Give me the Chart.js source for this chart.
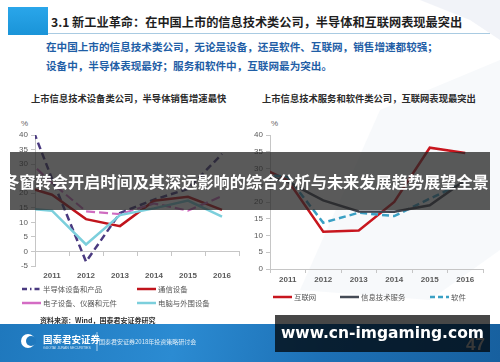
<!DOCTYPE html>
<html>
<head>
<meta charset="utf-8">
<script src="https://cdn.jsdelivr.net/npm/chart.js@4/dist/chart.umd.min.js"></script>
<style>
  html, body { margin: 0; padding: 0; }
  body {
    width: 500px; height: 362px; overflow: hidden; position: relative;
    background: #ffffff;
    font-family: "Noto Sans CJK SC", "Noto Sans", sans-serif;
  }
  .abs { position: absolute; white-space: nowrap; }
  canvas { position: absolute; }
  .bgshape { position: absolute; left: 0; top: 0; }
  .title { left: 51px; top: 12px; font-size: 12.2px; font-weight: bold; color: #1e1e1e; line-height: 20px; }
  .bluesq { left: 8px; top: 7px; width: 40px; height: 28px; background: linear-gradient(180deg, #2aa6ea, #1a94d8); }
  .rule { left: 48px; top: 33px; width: 442px; height: 1px; background: #a9cbe2; }
  .sub { left: 46px; font-size: 10.6px; font-weight: bold; color: #1f5ea6; line-height: 14px; }
  .ctitle { font-size: 9.3px; font-weight: bold; color: #2b2b2b; line-height: 12px; }
  .pct { font-family: "Liberation Sans", sans-serif; font-size: 8px; color: #666; }
  .leg { font-size: 7.4px; color: #555; line-height: 10px; display: flex; align-items: center; }
  .leg svg { margin-right: 2px; }
  .src { left: 40px; top: 315px; font-size: 7px; font-weight: bold; color: #333; line-height: 10px; }
  .foot { left: 0; top: 324px; width: 500px; height: 38px;
    background: linear-gradient(100deg, #1f78bd 0%, #2b8bd2 35%, #1d70b5 65%, #17609f 100%); }
  .banner { left: 10px; top: 152px; width: 480px; height: 58px; background: rgba(38,38,38,0.76); }
  .bannertxt { left: 0px; top: 170px; width: 492px; text-align: center; font-size: 16.2px; font-weight: bold; color: #ffffff; line-height: 22px; }
  .wm { left: 275px; top: 315px; width: 215px; height: 37px; background: rgba(0,0,0,0.72); }
  .wmtxt { left: 275px; top: 323px; width: 215px; text-align: center; font-family: "DejaVu Sans", sans-serif; font-weight: bold; font-size: 15.5px; color: #ffffff; line-height: 20px; }
</style>
</head>
<body>
<script>
// Category labels; 2010 sits just left of the visible range so the lines run in from the axis
const years = ['2010', '2011', '2012', '2013', '2014', '2015', '2016'];
const firstYear = '2011';

// 上市信息技术设备类公司 销售增速（%）
const semiconductor = [55, 25, -3.5, 13.2, 17.8, 21.5, 33.5];
const telecom = [23, 19.5, 11.1, 8.7, 17.4, 18.8, 14.3];
const electronics = [34.5, 23.5, 13.8, 12.8, 16.5, 14, 19];
const computers = [15, 14, 2.4, 12.5, 14.8, 17.5, 12];

// 上市信息技术服务和软件类公司 销售增速（%）
const internet = [31.5, 26.5, 11.1, 11.5, 20, 36.2, 34.6];
const itServices = [29, 26, 20.5, 17.2, 17.1, 19, 26.5];
const software = [28.5, 27.5, 13.8, 16.8, 15.8, 21, 26];

// Value axis ranges
const leftAxis = [-5, 40];
const rightAxis = [0, 40];
const axisStep = 5;
</script>

<svg class="bgshape" width="500" height="362">
  <polygon points="420,0 500,0 500,40 470,20" fill="rgba(214,222,236,0.35)"/>
  <polygon points="380,110 500,60 500,250 430,300 300,290" fill="rgba(226,232,242,0.28)"/>
</svg>

<div class="abs bluesq"></div>
<div class="abs title">3.1 新工业革命：在中国上市的信息技术类公司，半导体和互联网表现最突出</div>
<div class="abs rule"></div>
<div class="abs sub" style="top:40px">在中国上市的信息技术类公司，无论是设备，还是软件、互联网，销售增速都较强；</div>
<div class="abs sub" style="top:59px">设备中，半导体表现最好；服务和软件中，互联网最为突出。</div>

<div class="abs ctitle" style="left:31px; top:92px">上市信息技术设备类公司，半导体销售增速最快</div>
<div class="abs ctitle" style="left:262px; top:92px">上市信息技术服务和软件类公司，互联网表现最突出</div>
<div class="abs pct" style="left:21px; top:119px">%</div>
<div class="abs pct" style="left:271px; top:119px">%</div>

<canvas id="equip" width="250" height="160" style="left:0; top:125px"></canvas>
<canvas id="service" width="250" height="160" style="left:245px; top:125px"></canvas>

<div class="abs leg" style="left:22px; top:284px"><svg width="19" height="4"><line x1="0" y1="2" x2="19" y2="2" stroke="#4a3a80" stroke-width="2.5" stroke-dasharray="5,3,1.5,3"/></svg>半导体设备和产品</div>
<div class="abs leg" style="left:137px; top:284px"><svg width="19" height="4"><line x1="0" y1="2" x2="19" y2="2" stroke="#c0141c" stroke-width="2.5"/></svg>通信设备</div>
<div class="abs leg" style="left:22px; top:298px"><svg width="19" height="4"><line x1="0" y1="2" x2="19" y2="2" stroke="#d46cc4" stroke-width="2.5"/></svg>电子设备、仪器和元件</div>
<div class="abs leg" style="left:137px; top:298px"><svg width="19" height="4"><line x1="0" y1="2" x2="19" y2="2" stroke="#7ccfdc" stroke-width="2.5"/></svg>电脑与外围设备</div>

<div class="abs leg" style="left:273px; top:292px"><svg width="19" height="4"><line x1="0" y1="2" x2="19" y2="2" stroke="#c8161e" stroke-width="2.5"/></svg>互联网</div>
<div class="abs leg" style="left:340px; top:292px"><svg width="19" height="4"><line x1="0" y1="2" x2="19" y2="2" stroke="#444a55" stroke-width="2.5"/></svg>信息技术服务</div>
<div class="abs leg" style="left:430px; top:292px"><svg width="19" height="4"><line x1="0" y1="2" x2="19" y2="2" stroke="#3aa0c4" stroke-width="2.5" stroke-dasharray="5,3"/></svg>软件</div>

<div class="abs src">资料来源：Wind，国泰君安证券研究</div>

<div class="abs foot"></div>
<svg class="bgshape" width="500" height="362">
  <circle cx="28" cy="341" r="7" fill="#ffffff"/>
  <circle cx="31" cy="341" r="5" fill="#1f78bd"/>
  <line x1="97" y1="332" x2="97" y2="351" stroke="rgba(255,255,255,0.8)" stroke-width="0.8"/>
</svg>
<div class="abs" style="left:43px; top:334px; font-size:9.5px; font-weight:bold; color:#fff; line-height:11px">国泰君安证券</div>
<div class="abs" style="left:43px; top:346px; font-size:3.5px; color:rgba(255,255,255,0.8); line-height:4px; font-family:'Liberation Sans'">GUOTAI JUNAN SECURITIES</div>
<div class="abs" style="left:99px; top:338px; font-size:6px; color:rgba(255,255,255,0.85); line-height:8px">国泰君安证券2018年投资策略研讨会</div>
<div class="abs" style="left:466px; top:335px; font-size:17px; font-weight:bold; color:#c9c9c9; font-family:'Liberation Sans'; line-height:20px">47</div>

<div class="abs banner"></div>
<div class="abs bannertxt">冬窗转会开启时间及其深远影响的综合分析与未来发展趋势展望全景</div>
<div class="abs wm"></div>
<div class="abs wmtxt">www.cn-imgaming.com</div>

<script>
const axisGray = '#c6c6c6';
const tickFont = { family: 'Liberation Sans', size: 8 };

function lineSet(label, data, color, width, dash) {
  return {
    label, data, borderColor: color, borderWidth: width, borderDash: dash || [],
    pointRadius: 0, tension: 0, fill: false, xAxisID: 'x', yAxisID: 'y'
  };
}

function buildChart(id, datasets, range, cfg) {
  const scales = {
    x: {
      type: 'category', min: firstYear, offset: true, position: 'bottom',
      border: { display: cfg.bottomAxis, color: axisGray },
      grid: { display: true, drawOnChartArea: false, drawTicks: cfg.bottomAxis, tickLength: 4, offset: true, color: axisGray },
      ticks: { font: { ...tickFont, weight: 'bold' }, color: '#5a5a5a', padding: cfg.xPad, maxRotation: 0 },
      afterFit(s) { s.height = cfg.xHeight; }
    },
    y: {
      min: range[0], max: range[1],
      border: { display: true, color: axisGray },
      grid: { drawOnChartArea: false, drawTicks: true, tickLength: 4, color: axisGray },
      ticks: { stepSize: axisStep, font: tickFont, color: '#5a5a5a', padding: 3 },
      afterFit(s) { s.width = cfg.yWidth; }
    }
  };
  if (!cfg.bottomAxis) {
    // category axis drawn along the zero line, marks only
    scales.xZero = {
      type: 'category', min: firstYear, offset: true, position: { y: 0 },
      border: { display: true, color: axisGray },
      grid: { display: true, drawOnChartArea: false, drawTicks: true, tickLength: 4, offset: true, color: axisGray },
      ticks: { display: false }
    };
  }
  return new Chart(document.getElementById(id), {
    type: 'line',
    data: { labels: years, datasets },
    options: {
      responsive: false, animation: false, events: [],
      layout: { padding: cfg.padding },
      plugins: { legend: { display: false }, tooltip: { enabled: false } },
      scales
    }
  });
}

buildChart('equip', [
  lineSet('电脑与外围设备', computers, '#7ccfdc', 2.5),
  lineSet('电子设备、仪器和元件', electronics, '#cf6cc0', 2.2, [9, 4]),
  lineSet('通信设备', telecom, '#c0141c', 2.5),
  lineSet('半导体设备和产品', semiconductor, '#4a3a80', 2.5, [7, 4])
], leftAxis, { bottomAxis: false, xHeight: 19, yWidth: 35, xPad: 5, padding: { top: 10, right: 11, left: 0, bottom: 0 } });

buildChart('service', [
  lineSet('信息技术服务', itServices, '#404550', 2.5),
  lineSet('软件', software, '#3aa0c4', 2.5, [7, 4]),
  lineSet('互联网', internet, '#c8161e', 2.5)
], rightAxis, { bottomAxis: true, xHeight: 16, yWidth: 25, xPad: 2, padding: { top: 10, right: 12, left: 0, bottom: 0 } });
</script>
</body>
</html>
